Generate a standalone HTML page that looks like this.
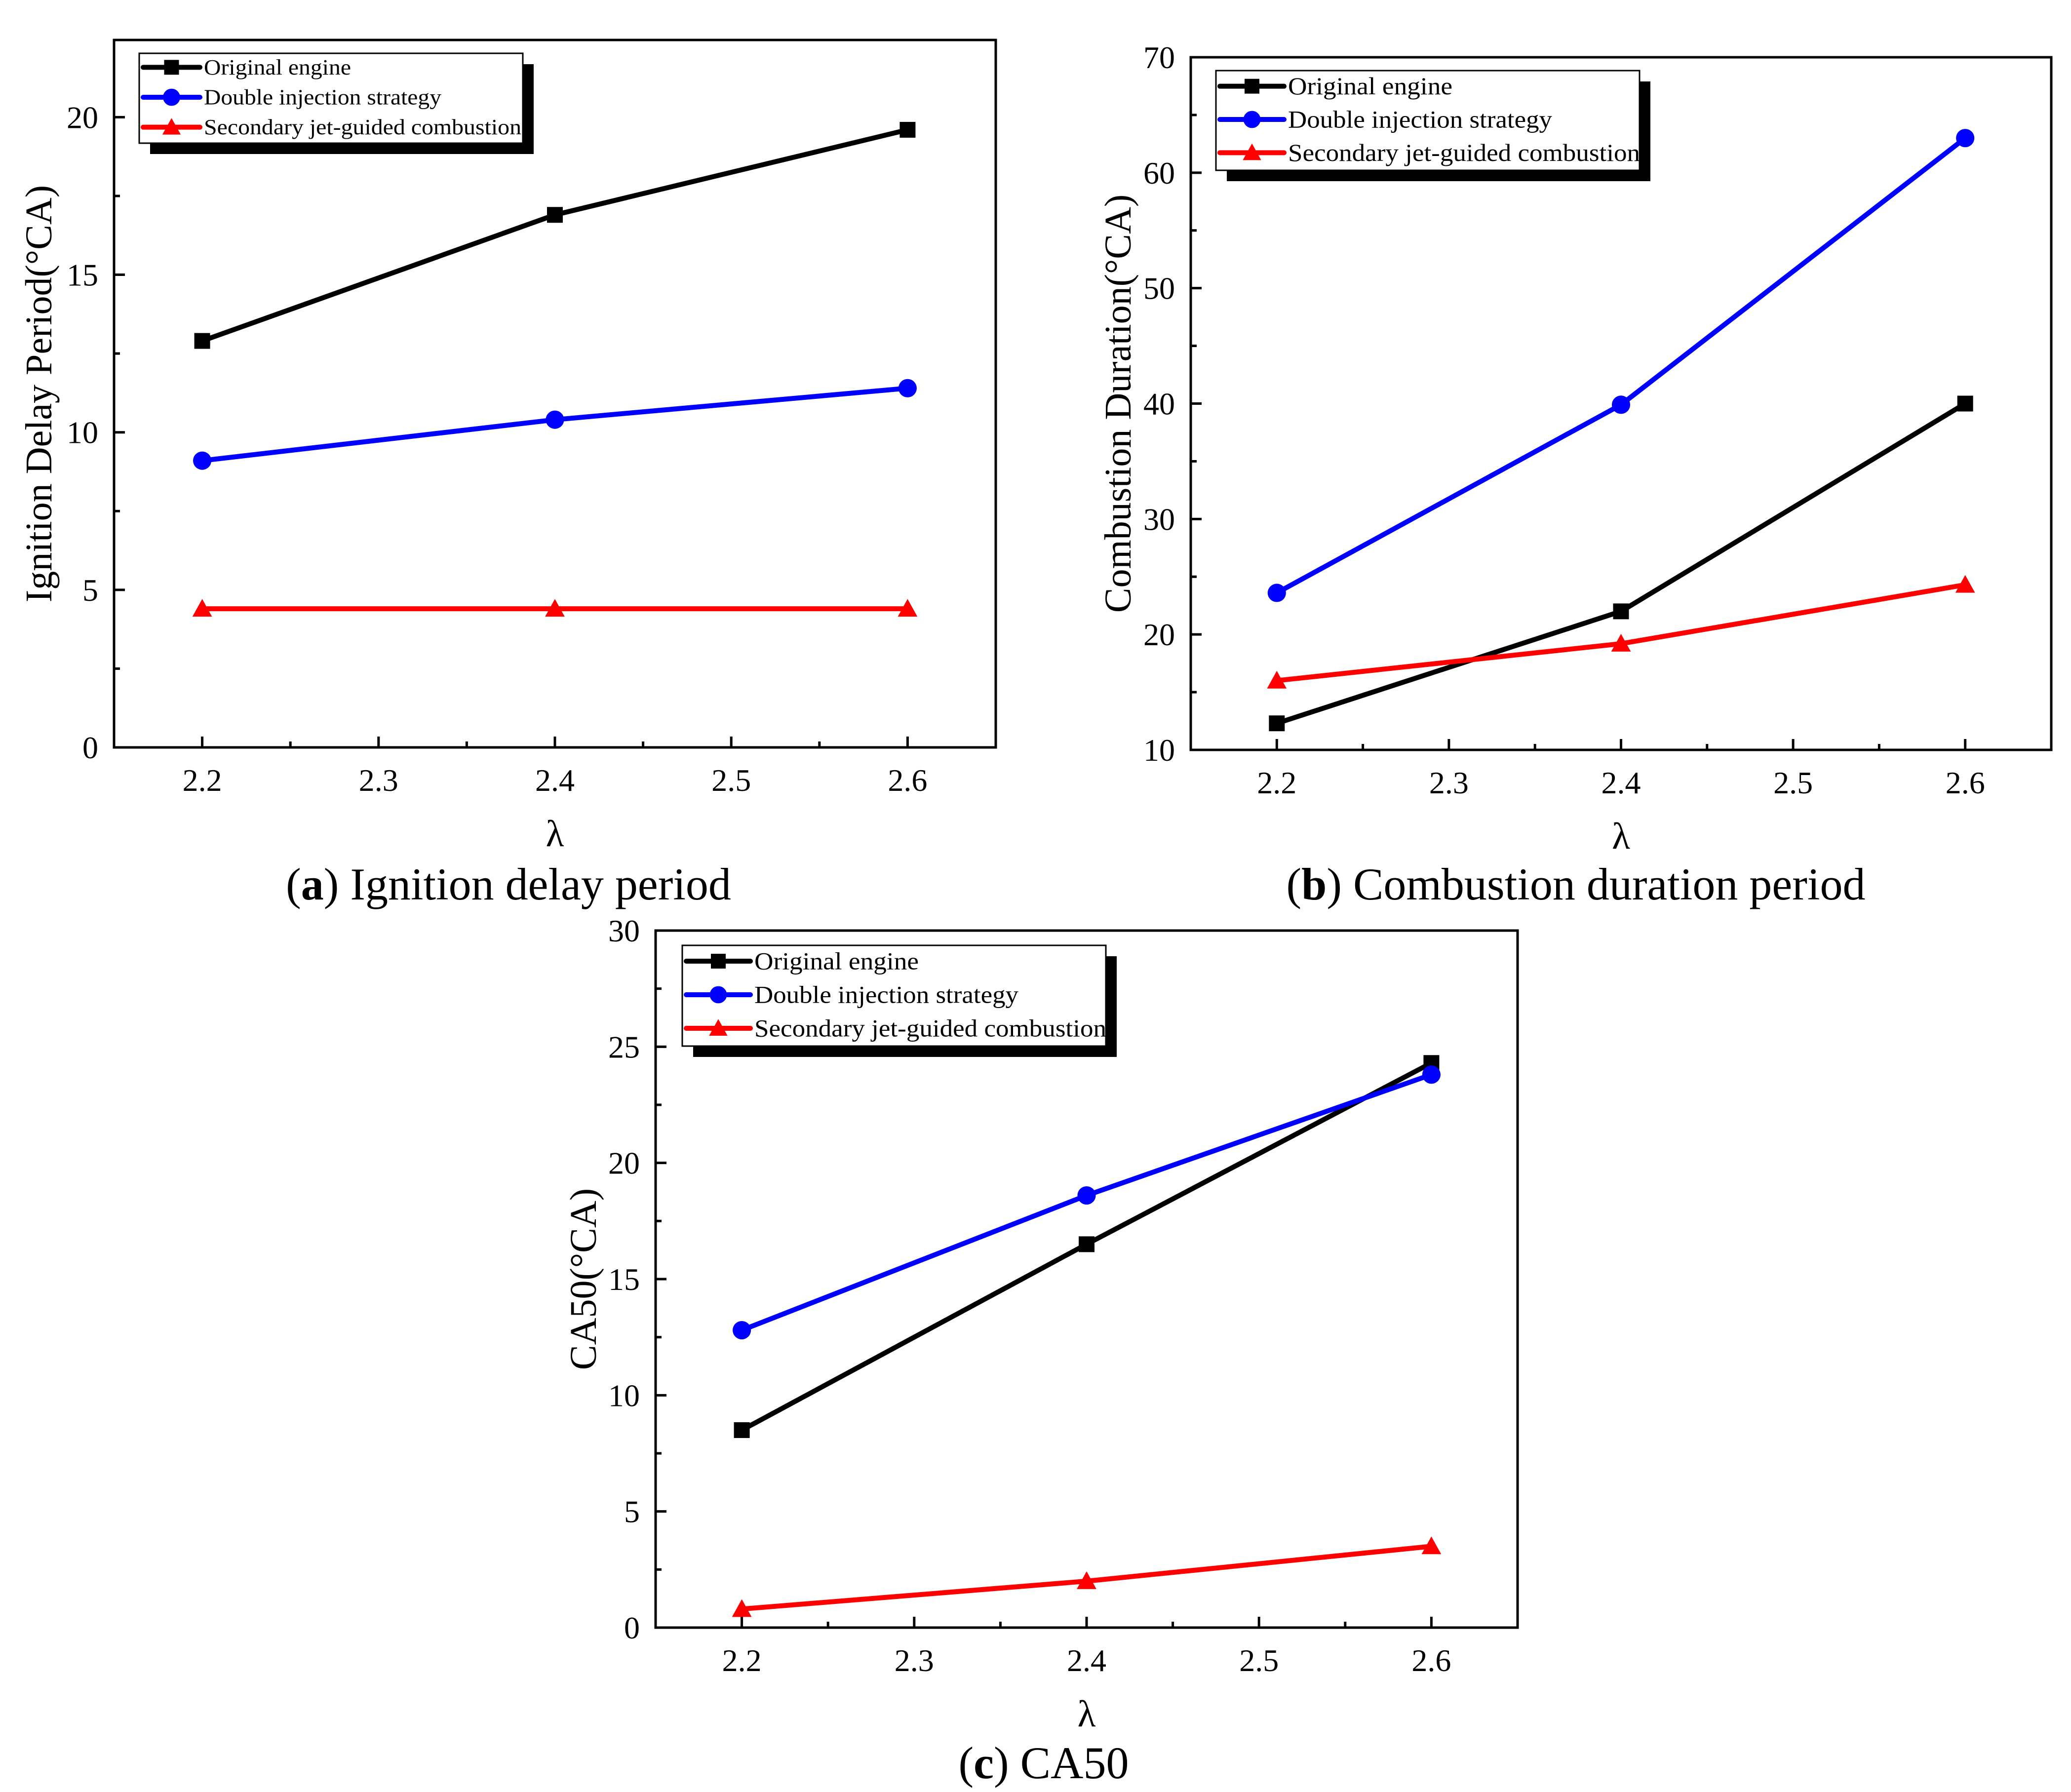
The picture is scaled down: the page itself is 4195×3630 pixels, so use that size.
<!DOCTYPE html>
<html><head><meta charset="utf-8"><style>
html,body{margin:0;padding:0;background:#fff;}
svg{display:block;font-family:"Liberation Serif",serif;}
</style></head>
<body>
<svg id="fig" width="4195" height="3630" viewBox="0 0 4195 3630" xmlns="http://www.w3.org/2000/svg"></svg>
<script>
// ---- data ----
const xCategories = [2.2, 2.4, 2.6];
const xTicks = [2.2, 2.3, 2.4, 2.5, 2.6];
const xTickLabels = ["2.2", "2.3", "2.4", "2.5", "2.6"];
const seriesNames = ["Original engine", "Double injection strategy", "Secondary jet-guided combustion"];

const aOriginal = [12.9, 16.9, 19.6];
const aDouble = [9.1, 10.4, 11.4];
const aSecondary = [4.4, 4.4, 4.4];
const aYTicks = [0, 5, 10, 15, 20];

const bOriginal = [12.3, 22.0, 40.0];
const bDouble = [23.6, 39.9, 63.0];
const bSecondary = [16.0, 19.2, 24.3];
const bYTicks = [10, 20, 30, 40, 50, 60, 70];

const cOriginal = [8.5, 16.5, 24.3];
const cDouble = [12.8, 18.6, 23.8];
const cSecondary = [0.8, 2.0, 3.5];
const cYTicks = [0, 5, 10, 15, 20, 25, 30];

const NS = "http://www.w3.org/2000/svg";
const svg = document.getElementById("fig");
function mk(tag, attrs, parent){
  const e = document.createElementNS(NS, tag);
  for (const k in attrs) e.setAttribute(k, attrs[k]);
  (parent || svg).appendChild(e);
  return e;
}
const colors = ["#000000", "#0000ff", "#ff0000"];
const markers = ["square", "circle", "triangle"];

function marker(g, type, cx, cy, color, s){
  let m;
  if (type === "square") m = mk("rect", {x: cx - s/2, y: cy - s/2, width: s, height: s, fill: color}, g);
  else if (type === "circle") m = mk("circle", {cx: cx, cy: cy, r: s*0.58, fill: color}, g);
  else m = mk("polygon", {points: (cx)+","+(cy - s*0.62)+" "+(cx - s*0.62)+","+(cy + s*0.5)+" "+(cx + s*0.62)+","+(cy + s*0.5), fill: color}, g);
  return m;
}

function drawPanel(p){
  const g = mk("g", {});
  
  
  const sx = v => p.x0 + (v - p.xmin) / (p.xmax - p.xmin) * (p.x1 - p.x0);
  const sy = v => p.y1 - (v - p.ymin) / (p.ymax - p.ymin) * (p.y1 - p.y0);
  const tg = mk("g", {stroke: "#000", "stroke-width": 5}, g);
  
  
  xTicks.forEach((v, i) => {
    const x = sx(v);
    mk("line", {x1: x, y1: p.y1, x2: x, y2: p.y1 - 22}, tg);
    const t = mk("text", {x: x, y: p.y1 + 88, "font-size": 64, "text-anchor": "middle", fill: "#000", stroke: "none"}, g);
    t.textContent = xTickLabels[i];
    
    
    if (i < xTicks.length - 1){
      const xm = sx((v + xTicks[i+1]) / 2);
      mk("line", {x1: xm, y1: p.y1, x2: xm, y2: p.y1 - 12}, tg);
    }
  });
  p.yTicks.forEach((v, i) => {
    const y = sy(v);
    mk("line", {x1: p.x0, y1: y, x2: p.x0 + 22, y2: y}, tg);
    const t = mk("text", {x: p.x0 - 32, y: y + 22, "font-size": 64, "text-anchor": "end", fill: "#000", stroke: "none"}, g);
    t.textContent = String(v);
    
    
    const vm = v + (p.yTicks[1] - p.yTicks[0]) / 2;
    if (vm < p.ymax) { const ym = sy(vm); mk("line", {x1: p.x0, y1: ym, x2: p.x0 + 12, y2: ym}, tg); }
  });
  const fr = mk("rect", {x: p.x0, y: p.y0, width: p.x1 - p.x0, height: p.y1 - p.y0, fill: "none", stroke: "#000", "stroke-width": 5}, g);
  
  
  p.series.forEach((vals, si) => {
    const sg = mk("g", {}, g);
    
    
    const pts = vals.map((v, i) => sx(xCategories[i]) + "," + sy(v)).join(" ");
    mk("polyline", {points: pts, fill: "none", stroke: colors[si], "stroke-width": 10, "stroke-linejoin": "round"}, sg);
    vals.forEach((v, i) => {
      const m = marker(sg, markers[si], sx(xCategories[i]), sy(v), colors[si], 32);
      
      
    });
  });
  const L = p.legend;
  const lg = mk("g", {}, g);
  
  
  mk("rect", {x: L.x + 22, y: L.y + 22, width: L.w, height: L.h, fill: "#000"}, lg);
  mk("rect", {x: L.x, y: L.y, width: L.w, height: L.h, fill: "#fff", stroke: "#000", "stroke-width": 3}, lg);
  seriesNames.forEach((n, si) => {
    const ey = L.y + L.h * (si + 0.5) / 3 - 2;
    const eg = mk("g", {}, lg);
    
    
    mk("line", {x1: L.x + 8, y1: ey, x2: L.x + 8 + L.lineW, y2: ey, stroke: colors[si], "stroke-width": 10, "stroke-linecap": "round"}, eg);
    marker(eg, markers[si], L.x + 8 + L.lineW / 2, ey, colors[si], 30);
    const t = mk("text", {x: L.x + L.lineW + 16, y: ey + L.fs * 0.33, "font-size": L.fs, fill: "#000", textLength: L.textW[si], lengthAdjust: "spacingAndGlyphs"}, eg);
    t.textContent = n;
  });
  const yt = mk("text", {x: p.ytx, y: (p.y0 + p.y1) / 2, "font-size": 76, "text-anchor": "middle", transform: "rotate(-90 " + p.ytx + " " + ((p.y0 + p.y1) / 2) + ")"}, g);
  yt.textContent = p.ytitle;
  
  
  const xt = mk("text", {x: (p.x0 + p.x1) / 2, y: p.y1 + 200, "font-size": 76, "text-anchor": "middle"}, g);
  xt.textContent = "λ";
  
  
  const cap = mk("text", {x: p.capx, y: p.capy, "font-size": 92, "text-anchor": "middle"}, g);
  cap.innerHTML = '(<tspan font-weight="bold">' + p.capLetter + '</tspan>) ' + p.capText;
  
  
}

drawPanel({name: "panel-a-ignition-delay", x0: 231, x1: 2017, y0: 81, y1: 1514, xmin: 2.15, xmax: 2.65, ymin: 0, ymax: 22.45,
  yTicks: aYTicks, series: [aOriginal, aDouble, aSecondary], ytitle: "Ignition Delay Period(°CA)", ytx: 104,
  legend: {x: 282, y: 108, w: 777, h: 182, lineW: 115, fs: 44, textW: [298, 481, 643]}, capx: 1030, capy: 1822, capLetter: "a", capText: "Ignition delay period"});
drawPanel({name: "panel-b-combustion-duration", x0: 2412, x1: 4155, y0: 116, y1: 1519, xmin: 2.15, xmax: 2.65, ymin: 10, ymax: 70,
  yTicks: bYTicks, series: [bOriginal, bDouble, bSecondary], ytitle: "Combustion Duration(°CA)", ytx: 2290,
  legend: {x: 2463, y: 143, w: 858, h: 202, lineW: 130, fs: 50, textW: [333, 535, 713]}, capx: 3192, capy: 1822, capLetter: "b", capText: "Combustion duration period"});
drawPanel({name: "panel-c-ca50", x0: 1328, x1: 3074, y0: 1885, y1: 3297, xmin: 2.15, xmax: 2.65, ymin: 0, ymax: 30,
  yTicks: cYTicks, series: [cOriginal, cDouble, cSecondary], ytitle: "CA50(°CA)", ytx: 1207,
  legend: {x: 1382, y: 1915, w: 858, h: 204, lineW: 130, fs: 50, textW: [333, 535, 713]}, capx: 2114, capy: 3602, capLetter: "c", capText: "CA50"});
</script>
</body></html>
